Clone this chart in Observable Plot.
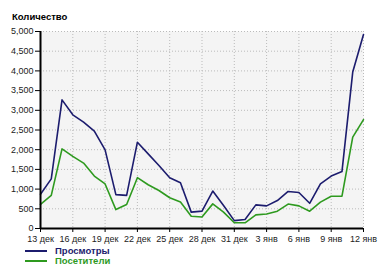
<!DOCTYPE html>
<html>
<head>
<meta charset="utf-8">
<script src="https://cdn.jsdelivr.net/npm/d3@7"></script>
<script src="https://cdn.jsdelivr.net/npm/@observablehq/plot@0.6"></script>
<style>
  html, body { margin: 0; padding: 0; background: #fff; }
  #wrap { position: relative; width: 382px; height: 266px; overflow: hidden; font-family: "Liberation Sans", Arial, sans-serif; }
  #title { position: absolute; left: 12px; top: 11px; font-size: 9.5px; font-weight: bold; color: #000; }
  .leg { position: absolute; left: 25px; font-size: 9.5px; line-height: 10px; height: 10px; font-weight: bold; display: flex; align-items: center; }
  .leg span.sw { display: inline-block; width: 22px; height: 2px; margin-right: 8px; }
</style>
</head>
<body>
<div id="wrap">
  <div id="chart"></div>
  <div id="title">Количество</div>
  <div class="leg" id="leg1" style="top:246px;color:#1c1c6e"><span class="sw" style="background:#1c1c6e"></span>Просмотры</div>
  <div class="leg" id="leg2" style="top:256px;color:#2e9a1f"><span class="sw" style="background:#2e9a1f"></span>Посетители</div>
</div>
<script>
const days = d3.range(31);
const views = [870, 1260, 3265, 2885, 2700, 2470, 1995, 860, 840, 2190, 1895, 1600, 1290, 1160, 415, 440, 950, 585, 200, 230, 600, 575, 710, 940, 915, 640, 1130, 1330, 1445, 3970, 4925];
const visitors = [610, 840, 2020, 1830, 1660, 1330, 1130, 480, 610, 1290, 1110, 965, 780, 670, 310, 290, 625, 415, 145, 145, 345, 370, 440, 620, 575, 440, 670, 820, 820, 2320, 2765];
const tickDays = [0, 3, 6, 9, 12, 15, 18, 21, 24, 27, 30];
const tickLabels = ["13 дек", "16 дек", "19 дек", "22 дек", "25 дек", "28 дек", "31 дек", "3 янв", "6 янв", "9 янв", "12 янв"];
const yTicks = d3.range(0, 5001, 500);
const seriesNames = ["Просмотры", "Посетители"];
const seriesColors = ["#1c1c6e", "#2e9a1f"];

const data = [];
days.forEach((d, i) => {
  data.push({day: d, value: views[i], series: seriesNames[0]});
  data.push({day: d, value: visitors[i], series: seriesNames[1]});
});

const chart = Plot.plot({
  width: 382,
  height: 266,
  marginLeft: 40,
  marginRight: 19,
  marginTop: 31,
  marginBottom: 38,
  style: {fontFamily: "Liberation Sans, Arial, sans-serif", fontSize: "9px", color: "#222", background: "#fff"},
  x: {domain: [0, 30], label: null},
  y: {domain: [0, 5000], label: null},
  color: {domain: seriesNames, range: seriesColors},
  marks: [
    Plot.frame({fill: "#f4f4f4", stroke: null}),
    Plot.gridY(yTicks.slice(1), {stroke: "#bbb", strokeOpacity: 1, strokeDasharray: "1,2"}),
    Plot.gridX(tickDays.slice(1), {stroke: "#bbb", strokeOpacity: 1, strokeDasharray: "1,2"}),
    Plot.line(data, {x: "day", y: "value", z: "series", stroke: "series", strokeWidth: 1.6}),
    Plot.ruleY([0], {stroke: "#000", strokeWidth: 2}),
    Plot.ruleX([0], {stroke: "#000", strokeWidth: 2}),
    Plot.axisY(yTicks, {tickSize: 5, tickPadding: 2, tickFormat: d3.format(","), stroke: "#000", fill: "#222", fontSize: 9, label: null}),
    Plot.axisX(tickDays, {tickSize: 4, tickPadding: 3, tickFormat: (d, i) => tickLabels[i], stroke: "#000", fill: "#222", fontSize: 9, label: null})
  ]
});
document.getElementById("chart").appendChild(chart);
</script>
</body>
</html>
